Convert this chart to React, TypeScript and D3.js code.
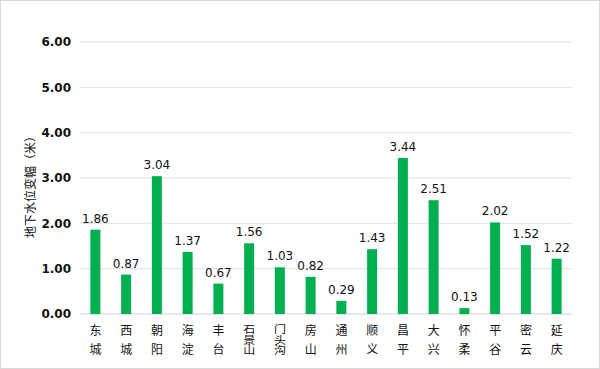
import React from 'react'
import * as d3 from 'd3'

const districts = ['东城', '西城', '朝阳', '海淀', '丰台', '石景山', '门头沟', '房山', '通州', '顺义', '昌平', '大兴', '怀柔', '平谷', '密云', '延庆']
const values = [1.86, 0.87, 3.04, 1.37, 0.67, 1.56, 1.03, 0.82, 0.29, 1.43, 3.44, 2.51, 0.13, 2.02, 1.52, 1.22]
const yTicks = [0, 1, 2, 3, 4, 5, 6]

export default function App() {
  const width = 600
  const height = 369
  const left = 80
  const right = 572
  const top = 42
  const bottom = 314

  const x = d3.scaleBand().domain(districts).range([left, right])
  const y = d3.scaleLinear().domain([0, 6]).range([bottom, top])
  const fmt = d3.format('.2f')
  const barW = 10

  return (
    <svg width={width} height={height} style={{ position: 'absolute', left: 0, top: 0 }}>
      <rect x={0.5} y={0.5} width={width - 1} height={height - 1} fill="#fff" stroke="#d9d9d9" />
      {/* grid + y ticks */}
      {yTicks.map(t => (
        <g key={t}>
          <line x1={left} x2={right} y1={y(t)} y2={y(t)} stroke={t === 0 ? '#d0d0d0' : '#e0e0e0'} />
          <text x={71} y={y(t)} dy="0.35em" textAnchor="end" fontFamily="DejaVu Sans" fontWeight="bold" fontSize={12} fill="#111">
            {fmt(t)}
          </text>
        </g>
      ))}
      <text
        transform={`translate(31,${(top + bottom) / 2 + 6}) rotate(-90)`}
        textAnchor="middle"
        dy="0.35em"
        fontFamily="Noto Sans CJK SC"
        fontSize={12}
        fill="#111"
      >
        地下水位变幅（米）
      </text>
      {/* bars */}
      {districts.map((d, i) => {
        const cx = x(d)! + x.bandwidth() / 2
        const long = d.length > 2
        return (
          <g key={d}>
            <rect x={cx - barW / 2} y={y(values[i])} width={barW} height={bottom - y(values[i])} fill="#00b050" />
            <text x={cx} y={y(values[i]) - 7} textAnchor="middle" fontFamily="DejaVu Sans" fontSize={12} fill="#111">
              {fmt(values[i])}
            </text>
            {/* vertical category label */}
            <text
              transform={`translate(${cx},324) scale(1,${long ? 0.85 : 1})`}
              x={0}
              y={0}
              style={{ writingMode: 'vertical-rl', letterSpacing: long ? 0.5 : 7 }}
              fontFamily="Noto Sans CJK SC"
              fontSize={12}
              fill="#111"
            >
              {d}
            </text>
          </g>
        )
      })}
    </svg>
  )
}
